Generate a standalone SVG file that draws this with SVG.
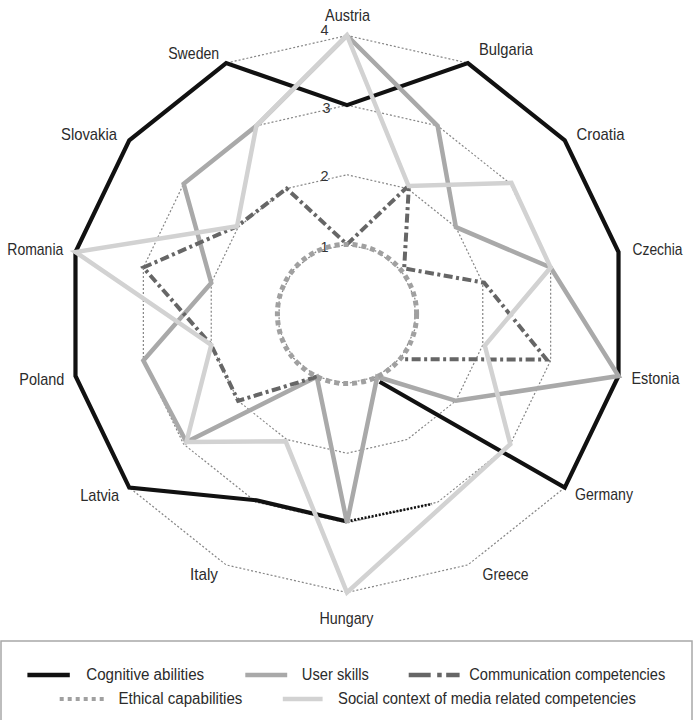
<svg xmlns="http://www.w3.org/2000/svg" width="693" height="720" viewBox="0 0 693 720">
  <style>
    .grid { fill: none; stroke: #858585; stroke-width: 1.2; stroke-dasharray: 2 2; }
    .cog { fill: none; stroke: #111; stroke-width: 4.2; }
    .cogdot { fill: none; stroke: #111; stroke-width: 2.6; stroke-dasharray: 2 1.6; }
    .user { fill: none; stroke: #a9a9a9; stroke-width: 4.5; }
    .comm { fill: none; stroke: #666; stroke-width: 4; stroke-dasharray: 9 3.5 3 3.5; }
    .eth { fill: none; stroke: #a0a0a0; stroke-width: 5; stroke-dasharray: 5 4; }
    .soc { fill: none; stroke: #d2d2d2; stroke-width: 4.5; }
    .lbl { font-family: "Liberation Sans", Arial, sans-serif; font-size: 17px; fill: #2b2b2b; text-anchor: middle; }
    .num { font-family: "Liberation Sans", Arial, sans-serif; font-size: 14.5px; fill: #333; text-anchor: middle; }
    .leg { font-family: "Liberation Sans", Arial, sans-serif; font-size: 16px; fill: #2b2b2b; }
  </style>

  <rect width="693" height="720" fill="#fff"/>

  <!-- radial grid: dotted 14-gons at levels 1..4 -->
  <g id="grid">
    <polygon class="grid" points="347,244.38 377.21,251.27 401.44,270.59 414.88,298.51 414.88,329.49 401.44,357.41 377.21,376.73 347,383.63 316.79,376.73 292.56,357.41 279.12,329.49 279.12,298.51 292.56,270.59 316.79,251.27"/>
    <polygon class="grid" points="347,174.75 407.42,188.54 455.87,227.18 482.76,283.01 482.76,344.99 455.87,400.82 407.42,439.46 347,453.25 286.58,439.46 238.13,400.82 211.24,344.99 211.24,283.01 238.13,227.18 286.58,188.54"/>
    <polygon class="grid" points="347,105.13 437.63,125.81 510.31,183.77 550.64,267.52 550.64,360.48 510.31,444.23 437.63,502.19 347,522.88 256.37,502.19 183.69,444.23 143.36,360.48 143.36,267.52 183.69,183.77 256.37,125.81"/>
    <polygon class="grid" points="347,35.5 467.84,63.08 564.74,140.36 618.52,252.03 618.52,375.97 564.74,487.64 467.84,564.92 347,592.5 226.16,564.92 129.26,487.64 75.48,375.97 75.48,252.03 129.26,140.36 226.16,63.08"/>
  </g>

  <!-- scale values -->
  <g id="scale">
    <text class="num" x="324.5" y="252">1</text>
    <text class="num" x="324.5" y="181">2</text>
    <text class="num" x="326.5" y="113">3</text>
    <text class="num" x="324.5" y="35">4</text>
  </g>

  <!-- data series -->
  <g id="connectors">
    <g id="series-cognitive">
      <polyline class="cog" points="379.6,381.7 564.74,487.64 618.52,375.97 618.52,252.03 564.74,140.36 467.84,63.08 347,105.13 226.16,63.08 129.26,140.36 75.48,252.03 75.48,375.97 129.26,487.64 256.5,500.3 347,521.5"/>
      <polyline class="cogdot" points="347,521.5 432,504"/>
    </g>
    <g id="series-user">
      <polygon class="user" points="347,35.5 437.63,125.81 455.87,227.18 550.64,267.52 618.52,375.97 455.87,400.82 377.21,376.73 347,522.88 316.79,376.73 186.42,442.06 143.36,360.48 211.24,283.01 183.69,183.77 256.37,125.81"/>
    </g>
    <g id="series-communication">
      <polyline class="comm" points="316.79,376.73 238.13,400.82 211.24,344.99 143.36,267.52 237.04,226.31 286.58,188.54 347,244.38 408.93,185.4 404.16,268.42 484.12,282.7 546.57,359.55 403.61,359.15"/>
    </g>
    <g id="series-ethical">
      <circle class="eth" cx="347" cy="314" r="69.6"/>
    </g>
    <g id="series-social">
      <polygon class="soc" points="347,35.5 408.63,186.03 511.39,182.9 550.64,267.52 484.8,345.45 510.31,444.23 347,592.5 285.68,441.34 186.42,442.06 211.24,344.99 75.48,252.03 237.04,226.31 256.37,125.81"/>
    </g>
  </g>

  <!-- country axes labels -->
  <g id="node-austria"><text class="lbl" x="347.5" y="20.5" textLength="45" lengthAdjust="spacingAndGlyphs">Austria</text></g>
  <g id="node-bulgaria"><text class="lbl" x="506" y="54.5" textLength="54" lengthAdjust="spacingAndGlyphs">Bulgaria</text></g>
  <g id="node-croatia"><text class="lbl" x="600.5" y="140" textLength="48" lengthAdjust="spacingAndGlyphs">Croatia</text></g>
  <g id="node-czechia"><text class="lbl" x="657.5" y="255" textLength="50" lengthAdjust="spacingAndGlyphs">Czechia</text></g>
  <g id="node-estonia"><text class="lbl" x="655.5" y="384" textLength="48" lengthAdjust="spacingAndGlyphs">Estonia</text></g>
  <g id="node-germany"><text class="lbl" x="604" y="500" textLength="58" lengthAdjust="spacingAndGlyphs">Germany</text></g>
  <g id="node-greece"><text class="lbl" x="505.5" y="580" textLength="46" lengthAdjust="spacingAndGlyphs">Greece</text></g>
  <g id="node-hungary"><text class="lbl" x="346.5" y="624" textLength="54" lengthAdjust="spacingAndGlyphs">Hungary</text></g>
  <g id="node-italy"><text class="lbl" x="204" y="580" textLength="28" lengthAdjust="spacingAndGlyphs">Italy</text></g>
  <g id="node-latvia"><text class="lbl" x="99.7" y="500.5" textLength="39" lengthAdjust="spacingAndGlyphs">Latvia</text></g>
  <g id="node-poland"><text class="lbl" x="41.8" y="385" textLength="45" lengthAdjust="spacingAndGlyphs">Poland</text></g>
  <g id="node-romania"><text class="lbl" x="35.3" y="255" textLength="56" lengthAdjust="spacingAndGlyphs">Romania</text></g>
  <g id="node-slovakia"><text class="lbl" x="89" y="140" textLength="56" lengthAdjust="spacingAndGlyphs">Slovakia</text></g>
  <g id="node-sweden"><text class="lbl" x="193.7" y="59" textLength="51" lengthAdjust="spacingAndGlyphs">Sweden</text></g>

  <!-- legend -->
  <g id="legend">
    <rect x="1" y="641" width="691" height="90" fill="none" stroke="#a8a8a8" stroke-width="1.5"/>
    <line x1="27.4" y1="675" x2="69.8" y2="675" stroke="#111" stroke-width="4.5"/>
    <text class="leg" x="86.2" y="679.5" textLength="118" lengthAdjust="spacingAndGlyphs">Cognitive abilities</text>
    <line x1="245.3" y1="675" x2="287.2" y2="675" stroke="#a9a9a9" stroke-width="4.5"/>
    <text class="leg" x="301.8" y="679.5" textLength="67" lengthAdjust="spacingAndGlyphs">User skills</text>
    <line x1="408.7" y1="675" x2="459.6" y2="675" stroke="#666" stroke-width="4.5" stroke-dasharray="22 6.5 4.5 4.5"/>
    <text class="leg" x="469.3" y="679.5" textLength="196" lengthAdjust="spacingAndGlyphs">Communication competencies</text>
    <line x1="59.7" y1="699" x2="104.7" y2="699" stroke="#a0a0a0" stroke-width="4" stroke-dasharray="4 4"/>
    <text class="leg" x="118.4" y="703.5" textLength="124" lengthAdjust="spacingAndGlyphs">Ethical capabilities</text>
    <line x1="282.8" y1="699" x2="322.6" y2="699" stroke="#d2d2d2" stroke-width="4.5"/>
    <text class="leg" x="338" y="703.5" textLength="298" lengthAdjust="spacingAndGlyphs">Social context of media related competencies</text>
  </g>
</svg>
